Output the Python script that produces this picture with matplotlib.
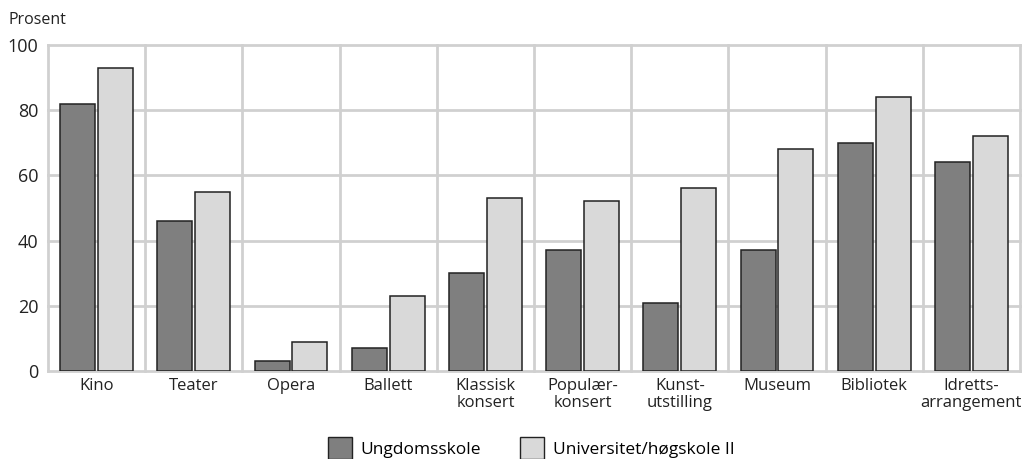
import numpy as np
from matplotlib import pyplot as plt
from matplotlib.patches import Patch

plt.rcParams['font.family'] = ['Open Sans', 'DejaVu Sans']

categories = ['Kino', 'Teater', 'Opera', 'Ballett', 'Klassisk\nkonsert',
              'Populær-\nkonsert', 'Kunst-\nutstilling', 'Museum', 'Bibliotek',
              'Idretts-\narrangement']
ungdom = [82, 46, 3, 7, 30, 37, 21, 37, 70, 64]
univ = [93, 55, 9, 23, 53, 52, 56, 68, 84, 72]
series_names = ['Ungdomsskole', 'Universitet/høgskole II']

dark = '#7f7f7f'
light = '#d9d9d9'
grid_c = '#d0d0d0'

fig = plt.figure(figsize=(10.23, 4.59), dpi=100)
ax = fig.add_axes([48/1023, 1-371/459, 972/1023, 326/459])

x = np.arange(len(categories))
w = 0.36
gap = 0.015
ax.bar(x - w/2 - gap, ungdom, w, color=dark, edgecolor='#222222', linewidth=1.1, zorder=3)
ax.bar(x + w/2 + gap, univ, w, color=light, edgecolor='#222222', linewidth=1.1, zorder=3)

ax.set_xlim(-0.5, len(categories) - 0.5)
ax.set_ylim(0, 100)
for yv in range(0, 101, 20):
    ax.axhline(yv, color=grid_c, linewidth=2, zorder=1, clip_on=False)
for xv in np.arange(-0.5, len(categories), 1):
    ax.axvline(xv, color=grid_c, linewidth=2, zorder=1, clip_on=False)

for s in ax.spines.values():
    s.set_visible(False)
ax.set_yticks(range(0, 101, 20))
ax.set_xticks(x)
ax.set_xticklabels(categories, linespacing=1.05)
ax.tick_params(length=0, colors='#222222')
ax.tick_params(axis='y', pad=7, labelsize=13)
ax.tick_params(axis='x', pad=5, labelsize=12)

fig.text(8/1023, 1-20/459, 'Prosent', fontsize=11.5, color='#222222', va='center')

handles = [Patch(facecolor=dark, edgecolor='#222222'),
           Patch(facecolor=light, edgecolor='#222222')]
fig.legend(handles, series_names, loc='lower center', bbox_to_anchor=(531/1023, -0.035),
           ncol=2, frameon=False, fontsize=12.5, handlelength=1.4, handleheight=1.6,
           columnspacing=2.2, handletextpad=0.5)

fig.savefig('out.png', dpi=100)
